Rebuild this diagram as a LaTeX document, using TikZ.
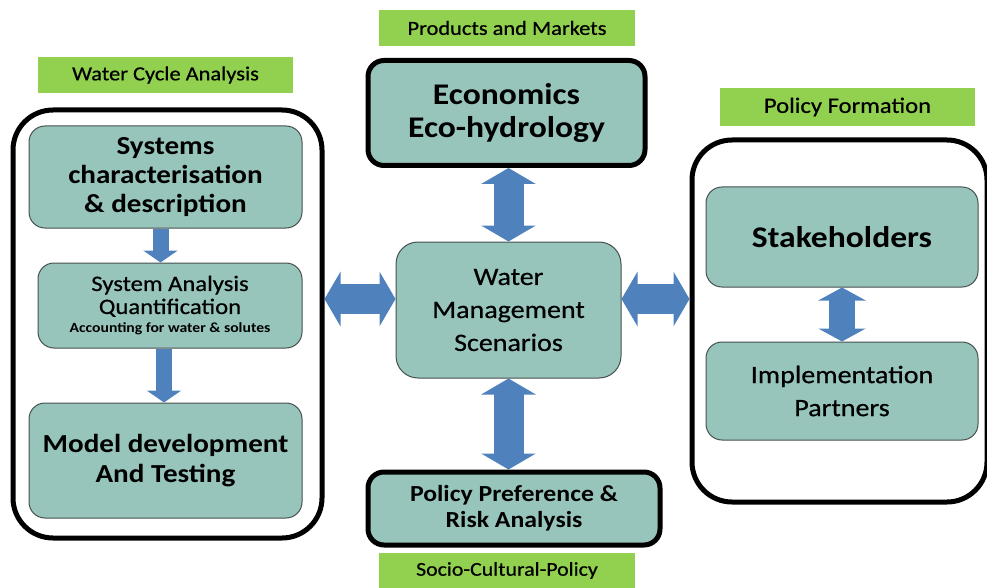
\documentclass[tikz,border=0pt]{standalone}
\usepackage{fontspec}
\setmainfont{Carlito}[FakeStretch=1.12, UprightFeatures={FakeBold=0.6}]
\usetikzlibrary{arrows.meta}

\definecolor{boxfill}{RGB}{151,197,188}
\definecolor{boxline}{RGB}{70,80,78}
\definecolor{labgreen}{RGB}{146,208,80}
\definecolor{arrowblue}{RGB}{79,129,189}

\tikzset{every picture/.style={line width=0.75pt}}
\tikzset{
  inbox/.style={draw=boxline, fill=boxfill, line width=1pt, rounded corners=16pt, align=center, inner sep=0pt},
  keybox/.style={draw=black, fill=boxfill, line width=5pt, rounded corners=16pt, align=center, inner sep=0pt},
  outerbox/.style={draw=black, line width=5pt, rounded corners=40pt, inner sep=0pt},
  grnlab/.style={fill=labgreen, inner sep=0pt, align=center},
  downarr/.style={draw=arrowblue, line width=16pt, -{Triangle[length=12pt,width=34pt]}},
  dblarr/.style={draw=arrowblue, line width=30pt, {Triangle[length=16pt,width=54pt]}-{Triangle[length=16pt,width=54pt]}},
  smalldbl/.style={draw=arrowblue, line width=26pt, {Triangle[length=13pt,width=47pt]}-{Triangle[length=13pt,width=47pt]}}
}

\begin{document}
\begin{tikzpicture}[x=1pt,y=1pt,yscale=-1,xscale=1]
    \useasboundingbox (0,0) rectangle (987,588);

    %Shape: Outer boxes
    \node [outerbox, minimum width=309, minimum height=428] (water) at (167.5,324) {};
    \node [outerbox, minimum width=295, minimum height=362] (policy) at (839.5,321) {};

    % Green labels
    \node [grnlab, minimum width=255, minimum height=36, font=\fontsize{20}{22}\selectfont] (cyclab) at (165.5,75) {Water Cycle Analysis};
    \node [grnlab, minimum width=256, minimum height=36, font=\fontsize{20}{22}\selectfont] (prodlab) at (507,28) {Products and Markets};
    \node [grnlab, minimum width=255, minimum height=38, font=\fontsize{22}{24}\selectfont] (pollab) at (847.5,107) {Policy Formation};
    \node [grnlab, minimum width=256, minimum height=35, font=\fontsize{19.5}{21}\selectfont] (soclab) at (507,570.5) {Socio-Cultural-Policy};

    %Shape: Water cycle boxes
    \node [inbox, minimum width=273, minimum height=102, font=\fontsize{26}{29}\selectfont\bfseries] (sys) at (165.5,177) {Systems\\characterisation\\\& description};
    \node [inbox, minimum width=264, minimum height=85, font=\fontsize{22}{23}\selectfont] (ana) at (170,305.5) {System Analysis\\Quantification\\[-4pt]{\fontsize{14}{16}\selectfont\bfseries Accounting for water \& solutes}};
    \node [inbox, minimum width=273, minimum height=115, font=\fontsize{26}{30}\selectfont\bfseries] (model) at (165.5,460.5) {Model development\\And Testing};

    %Shape: Centre boxes
    \node [keybox, minimum width=277, minimum height=105, font=\fontsize{30}{33}\selectfont\bfseries] (eco) at (506.5,113) {Economics\\Eco-hydrology};
    \node [inbox, rounded corners=22pt, minimum width=225, minimum height=136, font=\fontsize{25}{33}\selectfont] (wms) at (508.5,310) {Water\\Management\\Scenarios};
    \node [keybox, minimum width=292, minimum height=73, font=\fontsize{23}{26}\selectfont\bfseries] (pol) at (514,508.5) {Policy Preference \&\\Risk Analysis};

    %Shape: Policy boxes
    \node [inbox, minimum width=272, minimum height=100, font=\fontsize{30}{33}\selectfont\bfseries] (stake) at (842,237) {Stakeholders};
    \node [inbox, minimum width=272, minimum height=98, font=\fontsize{25}{33}\selectfont] (impl) at (842,391) {Implementation\\Partners};

    %Straight Lines: block arrows
    \draw [downarr] ([xshift=-5pt]sys.south) -- ([xshift=-5pt]sys.south |- ana.north);
    \draw [downarr] ([xshift=-6pt]ana.south) -- ([xshift=-6pt]ana.south |- model.north);
    \draw [dblarr] (wms.north) -- (wms.north |- eco.south);
    \draw [dblarr] (wms.south) -- (wms.south |- pol.north);
    \draw [dblarr] ([yshift=-11pt]wms.west) -- ([yshift=-11pt]wms.west -| water.east);
    \draw [dblarr] ([yshift=-11pt]wms.east) -- ([yshift=-11pt]wms.east -| policy.west);
    \draw [smalldbl] (stake.south) -- (impl.north);

\end{tikzpicture}
\end{document}
